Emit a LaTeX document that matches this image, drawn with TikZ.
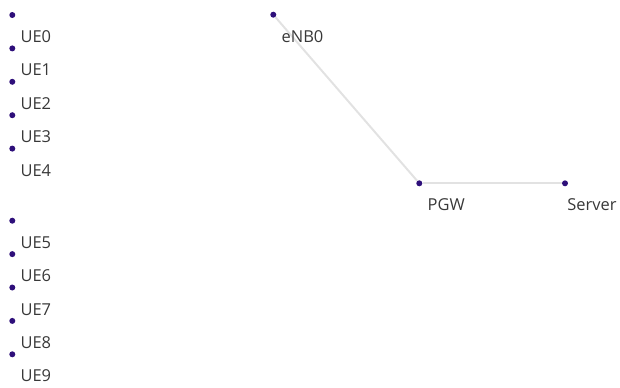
\documentclass[tikz,border=0pt]{standalone}
\usepackage{fontspec}
\setmainfont{Open Sans}
\definecolor{dotfill}{HTML}{2E0F7A}
\definecolor{linkgray}{HTML}{E2E2E2}
\definecolor{labeltext}{HTML}{383838}
\begin{document}
\begin{tikzpicture}[x=1bp,y=-1bp,
  host/.style={circle,fill=dotfill,inner sep=0pt,minimum size=6bp},
  tag/.style={anchor=base west,inner sep=0pt,text=labeltext,font=\fontsize{16.5}{19}\selectfont},
  link/.style={draw=linkgray,line width=2bp}]
\useasboundingbox (0,0) rectangle (620,387);
% core network
\node[host] (enb0) at (273.3,14.7) {};
\node[host] (pgw) at (419.3,183.3) {};
\node[host] (srv) at (565,183.3) {};
\draw[link] (enb0) -- (pgw);
\draw[link] (pgw) -- (srv);
\node[tag] at (281.5,42.2) {eNB0};
\node[tag] at (427.5,210.8) {PGW};
\node[tag] at (567.2,210.8) {Server};
% user equipment
\foreach \i/\y in {0/15,1/48.4,2/81.8,3/115.2,4/148.6,5/220.7,6/254.1,7/287.5,8/320.9,9/354.3}{
  \node[host] (ue\i) at (12.3,\y) {};
  \node[tag] (uelab\i) at (20.4,\y+27.5) {UE\i};
}
\end{tikzpicture}
\end{document}
